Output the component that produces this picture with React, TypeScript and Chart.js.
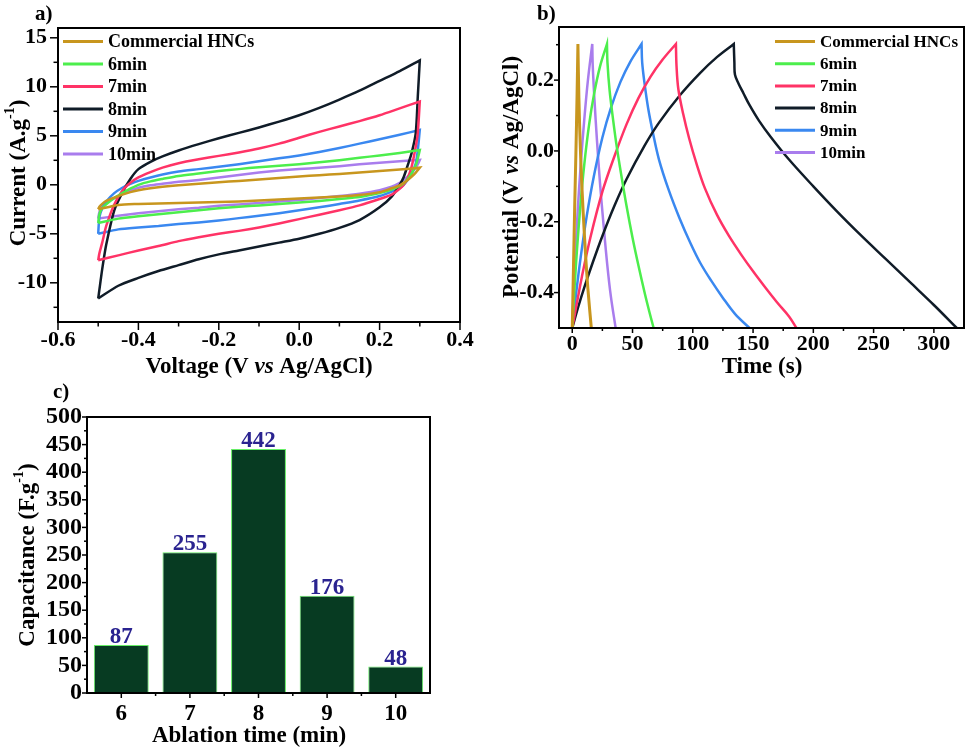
import React, { useEffect, useRef } from 'react';
import { Chart, registerables } from 'chart.js';

Chart.register(...registerables);

const FONT = "'Liberation Serif', 'Times New Roman', Times, serif";
Chart.defaults.font.family = FONT;

// ---------- shared series ----------
const seriesLabels = ['Commercial HNCs', '6min', '7min', '8min', '9min', '10min'];
const seriesColors = ['#c8961e', '#4cee4c', '#ff3366', '#101c28', '#3a88f0', '#a97ded'];

// ---------- panel a: cyclic voltammetry ----------
const cvForwardV = [-0.5, -0.497, -0.49, -0.48, -0.46, -0.44, -0.42, -0.4, -0.37, -0.34, -0.3, -0.25, -0.2, -0.15, -0.1, -0.05, 0, 0.05, 0.1, 0.15, 0.2, 0.25, 0.3];
const cvReverseV = [0.3, 0.295, 0.29, 0.28, 0.27, 0.26, 0.25, 0.23, 0.2, 0.15, 0.1, 0.05, 0, -0.05, -0.1, -0.15, -0.2, -0.25, -0.3, -0.35, -0.4, -0.45, -0.5];

const cvFwdCommercial = [-2.5, -2.25, -1.95, -1.65, -1.3, -1.0, -0.75, -0.55, -0.35, -0.2, -0.05, 0.1, 0.25, 0.4, 0.55, 0.7, 0.85, 0.98, 1.1, 1.25, 1.4, 1.55, 1.75];
const cvRevCommercial = [1.75, 1.5, 1.25, 0.85, 0.5, 0.2, -0.05, -0.35, -0.75, -1.05, -1.2, -1.3, -1.4, -1.5, -1.6, -1.7, -1.75, -1.8, -1.85, -1.9, -1.95, -2.05, -2.5];
const cvFwd6 = [-3.9, -3.0, -2.4, -2.0, -1.35, -0.85, -0.4, 0.0, 0.35, 0.6, 0.9, 1.15, 1.4, 1.6, 1.8, 1.95, 2.1, 2.3, 2.5, 2.75, 3.0, 3.25, 3.55];
const cvRev6 = [3.55, 2.7, 2.0, 1.2, 0.6, 0.15, -0.1, -0.5, -0.85, -1.25, -1.45, -1.65, -1.8, -1.95, -2.1, -2.25, -2.4, -2.6, -2.8, -3.0, -3.2, -3.45, -3.9];
const cvFwd7 = [-7.7, -7.0, -5.9, -4.2, -2.0, -0.6, 0.2, 0.75, 1.3, 1.75, 2.2, 2.6, 2.95, 3.3, 3.7, 4.2, 4.8, 5.4, 5.95, 6.5, 7.1, 7.8, 8.5];
const cvRev7 = [8.5, 5.3, 3.9, 1.9, 0.7, 0.0, -0.4, -1.0, -1.45, -2.1, -2.6, -3.05, -3.5, -3.95, -4.35, -4.7, -5.0, -5.35, -5.75, -6.25, -6.7, -7.2, -7.7];
const cvFwd8 = [-11.6, -10.7, -8.6, -6.1, -2.6, -0.8, 0.6, 1.6, 2.35, 2.9, 3.5, 4.15, 4.75, 5.3, 5.85, 6.45, 7.1, 7.85, 8.7, 9.6, 10.6, 11.6, 12.7];
const cvRev8 = [12.7, 9.0, 5.3, 3.3, 2.0, 0.8, 0.0, -1.2, -2.3, -3.6, -4.4, -5.0, -5.5, -5.9, -6.3, -6.7, -7.1, -7.6, -8.2, -8.8, -9.5, -10.3, -11.6];
const cvFwd9 = [-5.0, -3.3, -2.4, -1.7, -0.85, -0.3, 0.1, 0.4, 0.75, 1.05, 1.35, 1.6, 1.85, 2.1, 2.4, 2.7, 3.0, 3.35, 3.75, 4.2, 4.65, 5.1, 5.6];
const cvRev9 = [5.6, 3.5, 2.2, 1.2, 0.5, 0.0, -0.3, -0.7, -1.15, -1.6, -1.95, -2.3, -2.6, -2.9, -3.15, -3.4, -3.65, -3.85, -4.0, -4.2, -4.35, -4.55, -5.0];
const cvFwd10 = [-3.45, -2.8, -2.2, -1.85, -1.35, -0.95, -0.6, -0.3, -0.05, 0.1, 0.3, 0.5, 0.75, 1.0, 1.25, 1.45, 1.6, 1.75, 1.9, 2.1, 2.25, 2.4, 2.54];
const cvRev10 = [2.54, 2.1, 1.75, 1.2, 0.85, 0.5, 0.2, -0.2, -0.55, -0.9, -1.15, -1.35, -1.55, -1.7, -1.85, -2.0, -2.15, -2.35, -2.5, -2.7, -2.9, -3.15, -3.45];

const cvXTicks = [-0.6, -0.4, -0.2, 0, 0.2, 0.4];
const cvXMinor = [-0.5, -0.3, -0.1, 0.1, 0.3];
const cvYTicks = [-10, -5, 0, 5, 10, 15];
const cvYMinor = [-12.5, -7.5, -2.5, 2.5, 7.5, 12.5];

// ---------- panel b: galvanostatic charge/discharge ----------
const gcdTimeCommercial = [0, 1, 2, 3, 4, 4.7, 4.7, 5.5, 7, 9, 11, 13, 15.8];
const gcdPotCommercial = [-0.5, -0.33, -0.16, -0.01, 0.16, 0.302, 0.302, 0.15, -0.02, -0.17, -0.29, -0.39, -0.5];
const gcdTime6 = [0, 2, 4, 7, 10, 14, 18, 23, 28.8, 28.8, 29.2, 31, 34, 37, 41, 45, 50, 55, 60, 64, 67.5];
const gcdPot6 = [-0.5, -0.38, -0.275, -0.144, -0.037, 0.075, 0.159, 0.238, 0.302, 0.302, 0.25, 0.17, 0.085, 0.01, -0.075, -0.155, -0.245, -0.325, -0.4, -0.455, -0.5];
const gcdTime7 = [0, 3, 8, 15, 25, 35, 45, 55, 65, 75, 86, 86, 86.5, 88, 92, 97, 103, 110, 120, 130, 140, 150, 160, 170, 180, 186];
const gcdPot7 = [-0.5, -0.445, -0.355, -0.245, -0.115, -0.015, 0.075, 0.15, 0.21, 0.258, 0.302, 0.302, 0.24, 0.175, 0.105, 0.035, -0.035, -0.105, -0.18, -0.24, -0.292, -0.34, -0.385, -0.428, -0.468, -0.5];
const gcdTime8 = [0, 5, 10, 17, 25, 35, 45, 60, 72, 90, 106, 120, 134, 134, 134.5, 135, 138, 142, 147, 155, 165, 180, 200, 220, 240, 260, 280, 300, 319];
const gcdPot8 = [-0.5, -0.44, -0.385, -0.315, -0.24, -0.155, -0.08, 0.015, 0.08, 0.16, 0.22, 0.265, 0.302, 0.302, 0.25, 0.215, 0.19, 0.163, 0.13, 0.085, 0.038, -0.025, -0.1, -0.172, -0.24, -0.305, -0.37, -0.435, -0.5];
const gcdTime9 = [0, 3, 7, 12, 18, 25, 32, 40, 48, 57.5, 57.5, 58, 60, 63, 67, 72, 80, 89, 98, 106, 115, 125, 135, 147];
const gcdPot9 = [-0.5, -0.408, -0.3, -0.184, -0.07, 0.038, 0.121, 0.195, 0.251, 0.302, 0.302, 0.25, 0.19, 0.12, 0.05, -0.025, -0.11, -0.19, -0.26, -0.315, -0.365, -0.415, -0.46, -0.5];
const gcdTime10 = [0, 1, 2.5, 4.5, 7, 10, 13, 16.6, 16.6, 17, 18.5, 20.5, 23, 26, 29, 32, 36];
const gcdPot10 = [-0.5, -0.41, -0.3, -0.17, -0.04, 0.09, 0.2, 0.302, 0.302, 0.24, 0.14, 0.03, -0.09, -0.21, -0.32, -0.41, -0.5];

const gcdXTicks = [0, 50, 100, 150, 200, 250, 300];
const gcdXMinor = [25, 75, 125, 175, 225, 275];
const gcdYTicks = [-0.4, -0.2, 0, 0.2];
const gcdYMinor = [-0.3, -0.1, 0.1, 0.3];

// ---------- panel c: capacitance bars ----------
const barCategories = ['6', '7', '8', '9', '10'];
const barValues = [87, 255, 442, 176, 48];
const capYTicks = [0, 50, 100, 150, 200, 250, 300, 350, 400, 450, 500];
const capYMinor = [25, 75, 125, 175, 225, 275, 325, 375, 425, 475];

type Seg = { t: string; it?: boolean; sup?: boolean };

function drawRich(ctx: CanvasRenderingContext2D, segs: Seg[], cx: number, cy: number, rot: number, size: number) {
  ctx.save();
  ctx.translate(cx, cy);
  ctx.rotate(rot);
  const font = (s: Seg) => `${s.it ? 'italic ' : ''}bold ${s.sup ? Math.round(size * 0.62) : size}px ${FONT}`;
  let total = 0;
  const ws = segs.map((s) => {
    ctx.font = font(s);
    const w = ctx.measureText(s.t).width;
    total += w;
    return w;
  });
  let x = -total / 2;
  ctx.fillStyle = '#000';
  ctx.textAlign = 'left';
  ctx.textBaseline = 'alphabetic';
  const base = size * 0.33;
  segs.forEach((s, i) => {
    ctx.font = font(s);
    ctx.fillText(s.t, x, s.sup ? base - size * 0.45 : base);
    x += ws[i];
  });
  ctx.restore();
}

interface DecorCfg {
  label: string;
  labelPos: [number, number];
  xTitle: Seg[];
  xTitlePos: [number, number];
  yTitle: Seg[];
  yTitlePos: [number, number];
  titleSize: number;
  xMajor: number[];
  xMinor: number[];
  yMajor: number[];
  yMinor: number[];
  majorLen: number;
  minorLen: number;
  frameWidth: number;
  legend?: { x0: number; x1: number; tx: number; y0: number; dy: number; size: number };
  barLabels?: { size: number; color: string };
}

function decorPlugin(cfg: DecorCfg) {
  return {
    id: 'decor',
    afterDraw(chart: any) {
      const ctx: CanvasRenderingContext2D = chart.ctx;
      const a = chart.chartArea;
      const xs = chart.scales.x;
      const ys = chart.scales.y;
      ctx.save();
      ctx.strokeStyle = '#000';
      ctx.lineWidth = cfg.frameWidth;
      ctx.strokeRect(a.left, a.top, a.right - a.left, a.bottom - a.top);
      ctx.lineWidth = 1.5;
      const tickX = (vals: number[], len: number) => {
        vals.forEach((v) => {
          const p = xs.getPixelForValue(v);
          ctx.beginPath();
          ctx.moveTo(p, a.bottom);
          ctx.lineTo(p, a.bottom + len);
          ctx.stroke();
        });
      };
      const tickY = (vals: number[], len: number) => {
        vals.forEach((v) => {
          const p = ys.getPixelForValue(v);
          ctx.beginPath();
          ctx.moveTo(a.left, p);
          ctx.lineTo(a.left - len, p);
          ctx.stroke();
        });
      };
      tickX(cfg.xMajor, cfg.majorLen);
      tickX(cfg.xMinor, cfg.minorLen);
      tickY(cfg.yMajor, cfg.majorLen);
      tickY(cfg.yMinor, cfg.minorLen);

      if (cfg.legend) {
        const lg = cfg.legend;
        chart.data.datasets.forEach((ds: any, i: number) => {
          const y = lg.y0 + i * lg.dy;
          ctx.strokeStyle = ds.borderColor;
          ctx.lineWidth = 3;
          ctx.beginPath();
          ctx.moveTo(lg.x0, y);
          ctx.lineTo(lg.x1, y);
          ctx.stroke();
          ctx.fillStyle = '#000';
          ctx.font = `bold ${lg.size}px ${FONT}`;
          ctx.textAlign = 'left';
          ctx.textBaseline = 'middle';
          ctx.fillText(ds.label, lg.tx, y + 1);
        });
      }

      if (cfg.barLabels) {
        const meta = chart.getDatasetMeta(0);
        ctx.fillStyle = cfg.barLabels.color;
        ctx.font = `bold ${cfg.barLabels.size}px ${FONT}`;
        ctx.textAlign = 'center';
        ctx.textBaseline = 'alphabetic';
        meta.data.forEach((el: any, i: number) => {
          ctx.fillText(String(chart.data.datasets[0].data[i]), el.x, el.y - 2);
        });
      }

      drawRich(ctx, cfg.xTitle, cfg.xTitlePos[0], cfg.xTitlePos[1], 0, cfg.titleSize);
      drawRich(ctx, cfg.yTitle, cfg.yTitlePos[0], cfg.yTitlePos[1], -Math.PI / 2, cfg.titleSize);

      ctx.fillStyle = '#000';
      ctx.font = `bold 21px ${FONT}`;
      ctx.textAlign = 'left';
      ctx.textBaseline = 'alphabetic';
      ctx.fillText(cfg.label, cfg.labelPos[0], cfg.labelPos[1]);
      ctx.restore();
    },
  };
}

const tickFont = (size: number) => ({ family: FONT, size, weight: 'bold' as const });

function axisBase(opts: {
  ticks: number[];
  size: number;
  padding: number;
  fmt: (v: number) => string;
  fit: (s: any) => void;
  min?: number;
  max?: number;
}) {
  return {
    type: 'linear' as const,
    min: opts.min,
    max: opts.max,
    grid: { display: false, drawTicks: false, tickLength: 0 },
    border: { display: false },
    ticks: {
      font: tickFont(opts.size),
      color: '#000',
      padding: opts.padding,
      autoSkip: false,
      maxRotation: 0,
      callback: (v: any) => opts.fmt(Number(v)),
    },
    afterBuildTicks: (s: any) => {
      s.ticks = opts.ticks.map((v) => ({ value: v }));
    },
    afterFit: opts.fit,
  };
}

function cvConfig(): any {
  const fwd = [cvFwdCommercial, cvFwd6, cvFwd7, cvFwd8, cvFwd9, cvFwd10];
  const rev = [cvRevCommercial, cvRev6, cvRev7, cvRev8, cvRev9, cvRev10];
  const datasets = seriesLabels.map((label, i) => ({
    label,
    data: [
      ...cvForwardV.map((v, j) => ({ x: v, y: fwd[i][j] })),
      ...cvReverseV.map((v, j) => ({ x: v, y: rev[i][j] })),
    ],
    borderColor: seriesColors[i],
    backgroundColor: seriesColors[i],
    borderWidth: 2.5,
    pointRadius: 0,
    tension: 0.25,
    fill: false,
  }));
  return {
    type: 'line',
    data: { datasets },
    options: {
      animation: false,
      responsive: false,
      layout: { padding: { left: 0, top: 28, right: 20, bottom: 0 } },
      plugins: { legend: { display: false }, tooltip: { enabled: false } },
      scales: {
        x: axisBase({ ticks: cvXTicks, size: 22, padding: 5, min: -0.6, max: 0.4, fmt: (v) => v.toFixed(1), fit: (s) => { s.height = 58; } }),
        y: axisBase({ ticks: cvYTicks, size: 22, padding: 11, min: -14, max: 16, fmt: (v) => String(v), fit: (s) => { s.width = 58; } }),
      },
    },
    plugins: [
      decorPlugin({
        label: 'a)',
        labelPos: [35, 20],
        xTitle: [{ t: 'Voltage (V ' }, { t: 'vs', it: true }, { t: ' Ag/AgCl)' }],
        xTitlePos: [259, 365],
        yTitle: [{ t: 'Current (A.g' }, { t: '-1', sup: true }, { t: ')' }],
        yTitlePos: [17, 173],
        titleSize: 23,
        xMajor: cvXTicks,
        xMinor: cvXMinor,
        yMajor: cvYTicks,
        yMinor: cvYMinor,
        majorLen: 8,
        minorLen: 4.5,
        frameWidth: 2,
        legend: { x0: 63, x1: 103, tx: 108, y0: 41.5, dy: 22.5, size: 18 },
      }),
    ],
  };
}

function gcdConfig(): any {
  const times = [gcdTimeCommercial, gcdTime6, gcdTime7, gcdTime8, gcdTime9, gcdTime10];
  const pots = [gcdPotCommercial, gcdPot6, gcdPot7, gcdPot8, gcdPot9, gcdPot10];
  const datasets = seriesLabels.map((label, i) => ({
    label,
    data: times[i].map((t, j) => ({ x: t, y: pots[i][j] })),
    borderColor: seriesColors[i],
    backgroundColor: seriesColors[i],
    borderWidth: i === 0 ? 3 : 2.5,
    pointRadius: 0,
    tension: 0.35,
    fill: false,
  }));
  return {
    type: 'line',
    data: { datasets },
    options: {
      animation: false,
      responsive: false,
      layout: { padding: { left: 0, top: 27, right: 5, bottom: 0 } },
      plugins: { legend: { display: false }, tooltip: { enabled: false } },
      scales: {
        x: axisBase({ ticks: gcdXTicks, size: 22, padding: 3, min: -11, max: 325, fmt: (v) => String(v), fit: (s) => { s.height = 52; } }),
        y: axisBase({ ticks: gcdYTicks, size: 22, padding: 5, min: -0.5, max: 0.35, fmt: (v) => v.toFixed(1), fit: (s) => { s.width = 79; } }),
      },
    },
    plugins: [
      decorPlugin({
        label: 'b)',
        labelPos: [57, 20],
        xTitle: [{ t: 'Time (s)' }],
        xTitlePos: [282, 365],
        yTitle: [{ t: 'Potential (V ' }, { t: 'vs', it: true }, { t: ' Ag/AgCl)' }],
        yTitlePos: [30, 177],
        titleSize: 23,
        xMajor: gcdXTicks,
        xMinor: gcdXMinor,
        yMajor: gcdYTicks,
        yMinor: gcdYMinor,
        majorLen: 5,
        minorLen: 3,
        frameWidth: 2,
        legend: { x0: 295, x1: 335, tx: 340, y0: 41.5, dy: 22.2, size: 17 },
      }),
    ],
  };
}

function barConfig(): any {
  const catIdx = barCategories.map((_, i) => i);
  const catBounds = barCategories.slice(1).map((_, i) => i + 0.5);
  return {
    type: 'bar',
    data: {
      labels: barCategories,
      datasets: [
        {
          label: 'Capacitance',
          data: barValues,
          backgroundColor: '#073b22',
          borderColor: '#66ee66',
          borderWidth: 1,
          barPercentage: 0.8,
          categoryPercentage: 1.0,
        },
      ],
    },
    options: {
      animation: false,
      responsive: false,
      layout: { padding: { left: 0, top: 37, right: 50, bottom: 0 } },
      plugins: { legend: { display: false }, tooltip: { enabled: false } },
      scales: {
        x: {
          type: 'category',
          grid: { display: false, drawTicks: false, tickLength: 0 },
          border: { display: false },
          ticks: { font: tickFont(23), color: '#000', padding: 7, autoSkip: false, maxRotation: 0 },
          afterFit: (s: any) => { s.height = 54; },
        },
        y: axisBase({ ticks: capYTicks, size: 24, padding: 5, min: 0, max: 500, fmt: (v) => String(v), fit: (s) => { s.width = 87; } }),
      },
    },
    plugins: [
      decorPlugin({
        label: 'c)',
        labelPos: [53, 18],
        xTitle: [{ t: 'Ablation time (min)' }],
        xTitlePos: [249, 354],
        yTitle: [{ t: 'Capacitance (F.g' }, { t: '-1', sup: true }, { t: ')' }],
        yTitlePos: [26, 175],
        titleSize: 23,
        xMajor: catIdx,
        xMinor: catBounds,
        yMajor: capYTicks,
        yMinor: capYMinor,
        majorLen: 5,
        minorLen: 3,
        frameWidth: 2,
        barLabels: { size: 23, color: '#2a2390' },
      }),
    ],
  };
}

function ChartPanel({ make, left, top, width, height }: { make: () => any; left: number; top: number; width: number; height: number }) {
  const ref = useRef<HTMLCanvasElement>(null);
  useEffect(() => {
    const chart = new Chart(ref.current as HTMLCanvasElement, make());
    return () => chart.destroy();
  }, []);
  return (
    <canvas
      ref={ref}
      width={width}
      height={height}
      style={{ position: 'absolute', left, top, width, height }}
    />
  );
}

export default function App() {
  return (
    <div style={{ position: 'absolute', left: 0, top: 0, width: 969, height: 747, background: '#fff' }}>
      <ChartPanel make={cvConfig} left={0} top={0} width={480} height={380} />
      <ChartPanel make={gcdConfig} left={480} top={0} width={489} height={380} />
      <ChartPanel make={barConfig} left={0} top={380} width={480} height={367} />
    </div>
  );
}
